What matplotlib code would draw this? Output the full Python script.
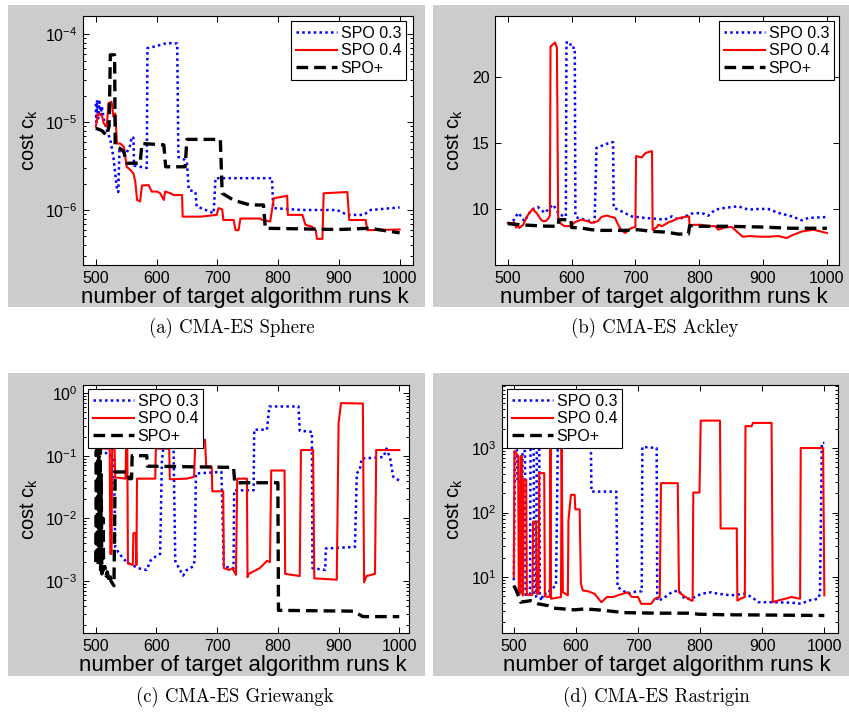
import matplotlib
matplotlib.use("Agg")
import matplotlib.pyplot as plt
from matplotlib.patches import Rectangle
from matplotlib.ticker import LogLocator, NullFormatter, FixedLocator

plt.rcParams['font.family'] = ['Liberation Sans', 'DejaVu Sans']
plt.rcParams['mathtext.fontset'] = 'custom'
plt.rcParams['mathtext.rm'] = 'Liberation Sans'
plt.rcParams['mathtext.it'] = 'Liberation Sans:italic'
plt.rcParams['mathtext.default'] = 'regular'

# ---------------- data ----------------
labels = ["SPO 0.3", "SPO 0.4", "SPO+"]
captions = ["(a) CMA-ES Sphere", "(b) CMA-ES Ackley", "(c) CMA-ES Griewangk", "(d) CMA-ES Rastrigin"]
xticks = [500, 600, 700, 800, 900, 1000]

# (a) Sphere
a_spo03_k = [500, 501, 502, 504, 506, 508, 510, 513, 518, 524, 529, 532, 535, 537, 539, 546, 551, 557, 559, 562, 563, 573, 584,
             585, 600, 617, 634, 636, 647, 650, 653, 664, 666, 694, 697, 790, 792, 840, 897, 914, 941, 952, 1000]
a_spo03_c = [1.6e-5, 1.0e-5, 1.78e-5, 1.1e-5, 1.7e-5, 1.2e-5, 1.5e-5, 1.1e-5, 8.1e-6, 6.3e-6, 4.0e-6, 2.6e-6, 1.7e-6, 1.6e-6,
             4.8e-6, 4.9e-6, 4.5e-6, 5.5e-6, 6.8e-6, 6.6e-6, 3.2e-6, 3.1e-6, 3.0e-6,
             6.9e-5, 7.3e-5, 7.9e-5, 7.8e-5, 4.0e-6, 3.7e-6, 3.5e-6, 1.7e-6, 1.6e-6, 1.1e-6, 9.2e-7, 2.3e-6, 2.3e-6, 1.05e-6,
             1.0e-6, 1.0e-6, 8.8e-7, 8.8e-7, 1.0e-6, 1.07e-6]
a_spo04_k = [500, 504, 510, 513, 518, 521, 526, 529, 532, 535, 540, 546, 551, 557, 562, 565, 568, 573, 576, 587, 592, 601, 606,
             612, 614, 623, 628, 642, 643, 672, 699, 702, 708, 710, 727, 730, 735, 738, 771, 774, 787, 793, 815, 816, 840, 845,
             856, 862, 864, 873, 875, 914, 917, 944, 947, 1000]
a_spo04_c = [8.85e-6, 1.25e-5, 1.2e-5, 9.7e-6, 8.85e-6, 1.63e-5, 1.7e-5, 1.15e-5, 1.25e-5, 5.7e-6, 5.7e-6, 5.25e-6, 3.1e-6,
             2.85e-6, 2.6e-6, 2.1e-6, 1.3e-6, 1.25e-6, 1.9e-6, 1.92e-6, 1.62e-6, 1.62e-6, 1.55e-6, 1.3e-6, 1.62e-6, 1.55e-6,
             1.48e-6, 1.48e-6, 8.4e-7, 8.4e-7, 8.8e-7, 1.05e-6, 1.02e-6, 7.7e-7, 7.7e-7, 5.9e-7, 5.9e-7, 8.0e-7, 8.0e-7,
             7.7e-7, 7.4e-7, 1.36e-6, 1.45e-6, 8.8e-7, 8.8e-7, 6.8e-7, 6.45e-7, 5.9e-7, 4.7e-7, 4.7e-7, 1.55e-6, 1.6e-6,
             7.7e-7, 7.7e-7, 5.9e-7, 6.0e-7]
a_spop_k = [500, 510, 518, 522, 524, 531, 532, 540, 546, 551, 573, 576, 612, 615, 647, 650, 705, 708, 727, 754, 776, 779,
            900, 950, 1000]
a_spop_c = [8.5e-6, 8.0e-6, 7.0e-6, 9.0e-6, 5.8e-5, 5.8e-5, 5.25e-6, 5.0e-6, 4.6e-6, 3.4e-6, 3.4e-6, 5.7e-6, 5.5e-6, 3.1e-6,
            3.1e-6, 6.35e-6, 6.35e-6, 1.55e-6, 1.29e-6, 1.14e-6, 1.14e-6, 6.2e-7, 6.0e-7, 6.2e-7, 5.5e-7]

# (b) Ackley
b_spo03_k = [500, 510, 516, 521, 526, 537, 547, 552, 558, 568, 571, 576, 580, 589, 591, 592, 598, 599, 605, 606, 610, 620,
             631, 636, 639, 652, 662, 665, 666, 673, 683, 694, 715, 736, 746, 757, 767, 778, 788, 804, 814, 825, 840, 861,
             877, 893, 908, 924, 945, 961, 971, 1000]
b_spo03_c = [8.89, 9.19, 9.7, 9.44, 9.07, 9.95, 10.15, 9.95, 9.70, 10.2, 10.33, 9.95, 9.6, 9.44, 9.44, 22.6, 22.6, 22.2,
             22.2, 9.44, 9.32, 9.19, 9.07, 8.99, 14.62, 14.87, 15.05, 15.05, 10.08, 9.95, 9.70, 9.44, 9.32, 9.24, 9.19,
             9.44, 9.19, 9.44, 9.65, 9.70, 9.49, 9.95, 10.08, 10.2, 9.95, 10.0, 10.0, 9.70, 9.44, 9.14, 9.32, 9.39]
b_spo04_k = [500, 505, 510, 513, 516, 518, 524, 531, 537, 539, 545, 552, 555, 560, 564, 566, 567, 572, 574, 577, 579, 584,
             589, 599, 605, 615, 626, 631, 641, 647, 655, 662, 668, 673, 678, 684, 689, 694, 700, 701, 710, 715, 720, 726,
             727, 733, 736, 742, 752, 757, 767, 778, 784, 785, 790, 804, 814, 825, 830, 840, 851, 861, 868, 880, 895, 908,
             924, 937, 945, 961, 979, 1000]
b_spo04_c = [8.94, 8.9, 9.0, 8.6, 8.75, 8.56, 8.8, 9.5, 9.9, 10.0, 9.7, 9.2, 9.07, 9.1, 9.3, 9.5, 22.3, 22.5, 22.6, 22.2,
             9.2, 8.85, 8.7, 8.7, 9.0, 9.19, 9.07, 8.94, 9.07, 9.4, 9.5, 9.4, 9.32, 8.8, 8.4, 8.18, 8.4, 8.56, 8.64, 14.0,
             13.9, 14.2, 14.3, 14.37, 8.43, 8.6, 8.8, 8.7, 9.0, 9.07, 9.3, 9.4, 9.44, 8.7, 8.8, 8.8, 8.7, 8.7, 8.43, 8.6,
             8.64, 8.2, 7.9, 7.95, 7.9, 7.9, 7.95, 7.8, 8.0, 8.3, 8.43, 8.18]
b_spop_k = [500, 520, 540, 560, 579, 580, 599, 600, 615, 631, 646, 683, 704, 725, 746, 757, 767, 783, 785, 800, 840, 893,
            920, 945, 1000]
b_spop_c = [8.89, 8.8, 8.75, 8.7, 8.69, 9.19, 9.19, 8.6, 8.56, 8.43, 8.38, 8.38, 8.43, 8.31, 8.25, 8.18, 8.1, 8.1, 8.74,
            8.69, 8.69, 8.64, 8.59, 8.54, 8.54]

# (c) Griewangk
c_spo03_k = [500, 505, 510, 520, 530, 532, 537, 545, 551, 560, 570, 584, 590, 597, 606, 609, 612, 628, 631, 637, 644, 650,
             660, 663, 665, 707, 711, 727, 728, 760, 761, 782, 786, 834, 836, 856, 857, 878, 879, 927, 930, 935, 938, 974,
             979, 985, 990, 1000]
c_spo03_c = [0.13, 0.13, 0.11, 0.11, 0.09, 0.0035, 0.0029, 0.0023, 0.002, 0.0018, 0.0016, 0.0015, 0.0021, 0.0024, 0.0027,
             0.085, 0.15, 0.15, 0.0021, 0.0016, 0.00122, 0.0015, 0.0017, 0.0021, 0.052, 0.055, 0.0017, 0.0016, 0.028,
             0.028, 0.26, 0.26, 0.61, 0.61, 0.25, 0.24, 0.0016, 0.0015, 0.0033, 0.0035, 0.052, 0.06, 0.09, 0.095, 0.13,
             0.09, 0.046, 0.04]
c_spo04_k = [500, 523, 524, 526, 527, 531, 532, 549, 550, 552, 553, 561, 562, 566, 567, 568, 598, 599, 621, 622, 650, 662,
             664, 680, 682, 691, 692, 710, 711, 720, 725, 731, 733, 749, 750, 752, 770, 782, 787, 789, 811, 812, 836, 838,
             858, 860, 897, 900, 904, 940, 942, 946, 960, 962, 1000]
c_spo04_c = [0.13, 0.13, 0.0027, 0.0027, 0.13, 0.13, 0.045, 0.043, 0.13, 0.13, 0.0019, 0.0018, 0.0058, 0.0058, 0.0018,
             0.043, 0.043, 0.13, 0.13, 0.042, 0.043, 0.046, 0.17, 0.18, 0.067, 0.067, 0.027, 0.027, 0.0016, 0.0015, 0.0016,
             0.00125, 0.043, 0.043, 0.00115, 0.0013, 0.0016, 0.0021, 0.0020, 0.058, 0.058, 0.0013, 0.0012, 0.123, 0.123,
             0.0011, 0.00105, 0.33, 0.69, 0.68, 0.00095, 0.0012, 0.0013, 0.123, 0.123]
c_spop_k = [500, 501, 502, 503, 504, 505, 506, 507, 508, 509, 510, 512, 513, 515, 517, 519, 521, 523, 525, 528, 530, 532,
            553, 555, 559, 560, 584, 585, 727, 729, 800, 801, 925, 932, 940, 1000]
c_spop_c = [0.002, 0.12, 0.0025, 0.13, 0.0018, 0.1, 0.0022, 0.13, 0.0015, 0.05, 0.0013, 0.01, 0.0015, 0.0017, 0.0012,
            0.0014, 0.0011, 0.0013, 0.001, 0.0009, 0.00084, 0.055, 0.055, 0.043, 0.043, 0.1, 0.1, 0.068, 0.065, 0.037,
            0.037, 0.00034, 0.00033, 0.0003, 0.00027, 0.00027]

# (d) Rastrigin
d_spo03_k = [500, 502, 505, 506, 510, 511, 513, 514, 518, 519, 526, 527, 532, 533, 536, 537, 541, 542, 545, 547, 555, 558,
             568, 571, 624, 625, 665, 667, 675, 684, 689, 700, 706, 707, 730, 731, 740, 754, 765, 775, 786, 802, 818, 829,
             850, 872, 883, 894, 915, 947, 963, 974, 990, 993, 996, 1000]
d_spo03_c = [8.9, 950, 950, 300, 300, 6.0, 6.0, 900, 900, 5.3, 5.3, 1000, 1000, 5.0, 5.0, 950, 950, 4.9, 4.3, 5.5, 5.5,
             6.2, 7.4, 1500, 1500, 211, 211, 7.0, 6.2, 5.5, 5.8, 6.0, 6.0, 1040, 1000, 4.3, 4.6, 5.8, 6.2, 4.6, 4.6, 5.5,
             5.8, 5.5, 5.2, 5.5, 4.9, 4.07, 4.07, 4.0, 3.84, 4.3, 4.6, 5.5, 1200, 1200]
d_spo04_k = [500, 501, 507, 508, 510, 511, 513, 514, 515, 516, 520, 521, 530, 531, 536, 537, 540, 541, 549, 550, 558, 559,
             560, 576, 577, 579, 587, 588, 592, 598, 599, 606, 608, 611, 620, 630, 641, 650, 660, 670, 684, 690, 700, 705,
             721, 727, 735, 737, 764, 766, 775, 786, 788, 789, 799, 801, 832, 833, 859, 860, 865, 872, 873, 883, 885, 915,
             917, 925, 937, 947, 961, 962, 998, 1000]
d_spo04_c = [10, 900, 750, 5.5, 5.5, 750, 750, 5.2, 5.2, 320, 320, 5.3, 5.3, 72, 72, 5.5, 5.5, 408, 408, 5.0, 4.9, 1000,
             4.6, 4.9, 1000, 5.8, 5.2, 76, 188, 188, 112, 112, 8.0, 6.2, 6.0, 5.5, 4.07, 4.9, 4.9, 5.3, 5.8, 4.9, 4.9,
             3.84, 3.84, 4.6, 4.9, 285, 285, 5.8, 5.0, 4.3, 4.3, 204, 204, 2660, 2660, 56.6, 56.6, 4.3, 4.6, 4.9, 2180,
             2180, 2450, 2450, 4.07, 4.3, 4.6, 4.9, 4.6, 1000, 1000, 5.2]
d_spop_k = [500, 504, 509, 511, 527, 539, 555, 563, 598, 614, 635, 657, 678, 732, 786, 797, 840, 894, 1000]
d_spop_c = [7.4, 6.2, 4.6, 4.07, 4.3, 3.84, 3.6, 3.3, 3.1, 3.2, 3.1, 2.95, 2.8, 2.75, 2.75, 2.65, 2.6, 2.58, 2.53]

# ---------------- layout ----------------
W, H = 849, 715
fig = plt.figure(figsize=(W / 100, H / 100), dpi=100)
fig.patch.set_facecolor('white')

def fx(x):
    return x / W

def fy(y):
    return 1 - y / H

def gray(x0, y0, x1, y1):
    fig.add_artist(Rectangle((fx(x0), fy(y1)), (x1 - x0) / W, (y1 - y0) / H,
                             transform=fig.transFigure, facecolor='#cccccc', edgecolor='none', zorder=0))

styles = [dict(color='#0000ff', lw=1.8, linestyle=(0, (1, 1.3))),
          dict(color='#ff0000', lw=1.5, linestyle='-'),
          dict(color='black', lw=2.4, linestyle=(0, (3.5, 1.8)))]

panels = [
    dict(box=(83, 16, 413, 265), gray=(8, 5, 425, 307), cap=(232, 328),
         series=[(a_spo03_k, a_spo03_c), (a_spo04_k, a_spo04_c), (a_spop_k, a_spop_c)],
         log=True, ylim=(10 ** -6.625, 10 ** -3.795), xlim=(479, 1022), leg=(406, 21)),
    dict(box=(495, 16, 839, 265), gray=(433, 5, 849, 307), cap=(655, 328),
         series=[(b_spo03_k, b_spo03_c), (b_spo04_k, b_spo04_c), (b_spop_k, b_spop_c)],
         log=False, ylim=(5.76, 24.6), xlim=(480, 1019), leg=(834, 21)),
    dict(box=(83, 385, 409, 633), gray=(8, 373, 425, 676), cap=(235, 697),
         series=[(c_spo03_k, c_spo03_c), (c_spo04_k, c_spo04_c), (c_spop_k, c_spop_c)],
         log=True, ylim=(10 ** -3.83, 10 ** 0.128), xlim=(479, 1016), leg=(88, 389)),
    dict(box=(502, 385, 838, 633), gray=(433, 373, 849, 676), cap=(656, 697),
         series=[(d_spo03_k, d_spo03_c), (d_spo04_k, d_spo04_c), (d_spop_k, d_spop_c)],
         log=True, ylim=(10 ** 0.132, 10 ** 3.977), xlim=(481, 1022), leg=(507, 389)),
]

for i, p in enumerate(panels):
    gray(*p['gray'])
    l, t, r, b = p['box']
    ax = fig.add_axes([fx(l), fy(b), (r - l) / W, (b - t) / H])
    ax.set_zorder(2)
    for (ks, cs), lab, st in zip(p['series'], labels, styles):
        ax.plot(ks, cs, label=lab, **st)
    if p['log']:
        ax.set_yscale('log')
        ax.yaxis.set_minor_locator(LogLocator(base=10, subs=range(2, 10), numticks=50))
        ax.yaxis.set_minor_formatter(NullFormatter())
    else:
        ax.yaxis.set_major_locator(FixedLocator([10, 15, 20]))
    ax.set_ylim(*p['ylim'])
    ax.set_xlim(*p['xlim'])
    ax.set_xticks(xticks)
    ax.tick_params(which='both', direction='in', top=True, right=True, labelsize=11.5, width=0.7)
    ax.tick_params(which='major', length=4.5, pad=4)
    ax.tick_params(which='minor', length=2.5)
    for s in ax.spines.values():
        s.set_linewidth(0.8)
    # legend
    lx, ly = p['leg']
    loc = 'upper right' if i < 2 else 'upper left'
    anchor = ((lx - l) / (r - l), (b - ly) / (b - t))
    leg = ax.legend(loc=loc, bbox_to_anchor=anchor, borderaxespad=0, fontsize=11.5, frameon=True,
                    fancybox=False, edgecolor='black', framealpha=1, handlelength=2.6, handletextpad=0.2,
                    labelspacing=0.15, borderpad=0.3)
    leg.get_frame().set_linewidth(0.8)
    # axis labels
    fig.text(fx((l + r) / 2 - 3), fy(p['gray'][3] - 10), "number of target algorithm runs k", ha='center', va='center',
             fontsize=16, zorder=3)
    fig.text(fx(p['gray'][0] + 21), fy((t + b) / 2), r"cost c$_\mathregular{k}$", ha='center', va='center',
             rotation=90, fontsize=14.5, zorder=3)
    cx, cy = p['cap']
    fig.text(fx(cx), fy(cy), captions[i], ha='center', va='center', fontsize=13.5,
             family=['cmr10', 'DejaVu Serif'])

fig.savefig('out.png', dpi=100, facecolor='white')
